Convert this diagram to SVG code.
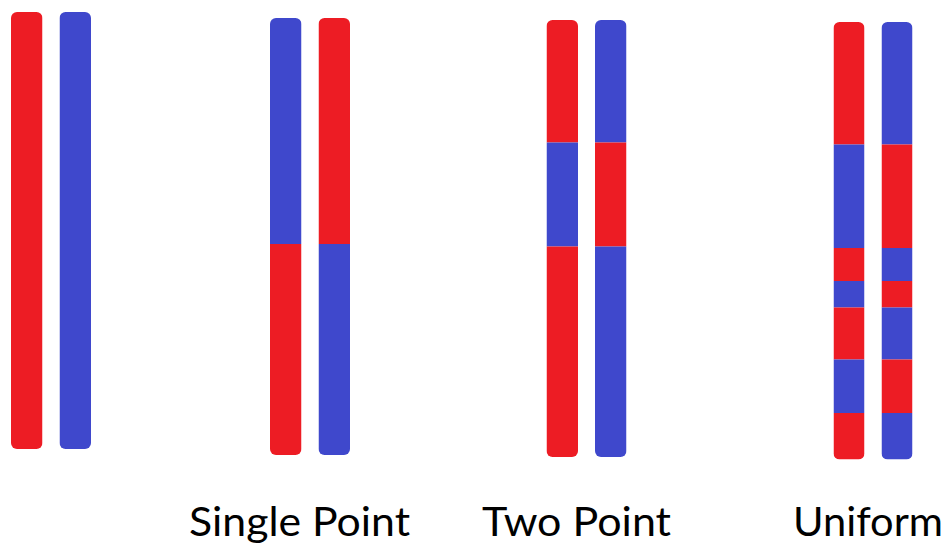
<svg xmlns="http://www.w3.org/2000/svg" width="947" height="545" viewBox="0 0 947 545">
  <style>
    .r { fill: #ED1C24; }
    .b { fill: #3F48CC; }
    .lbl { font-family: Lato, "Open Sans", sans-serif; font-size: 40px; fill: #000; }
  </style>
  <defs>
    <!-- rounded outline of each chromosome bar -->
    <clipPath id="c1a"><rect x="11" y="12" width="31.5" height="437" rx="6"/></clipPath>
    <clipPath id="c1b"><rect x="59.5" y="12" width="31.5" height="437" rx="6"/></clipPath>
    <clipPath id="c2a"><rect x="270" y="18" width="31.5" height="437" rx="6"/></clipPath>
    <clipPath id="c2b"><rect x="318.5" y="18" width="31.5" height="437" rx="6"/></clipPath>
    <clipPath id="c3a"><rect x="546.5" y="20" width="31.5" height="437" rx="6"/></clipPath>
    <clipPath id="c3b"><rect x="595" y="20" width="31.5" height="437" rx="6"/></clipPath>
    <clipPath id="c4a"><rect x="833.5" y="22" width="31" height="437.5" rx="6"/></clipPath>
    <clipPath id="c4b"><rect x="881.5" y="22" width="31" height="437.5" rx="6"/></clipPath>
  </defs>

  <!-- parents -->
  <g id="parents">
    <g id="parent-a" clip-path="url(#c1a)"><rect class="r" x="11" y="12" width="31.5" height="437"/></g>
    <g id="parent-b" clip-path="url(#c1b)"><rect class="b" x="59.5" y="12" width="31.5" height="437"/></g>
  </g>

  <!-- single point crossover -->
  <g id="single-point">
    <g id="sp-a" clip-path="url(#c2a)">
      <rect class="b" x="270" y="18" width="31.5" height="226"/>
      <rect class="r" x="270" y="244" width="31.5" height="211"/>
    </g>
    <g id="sp-b" clip-path="url(#c2b)">
      <rect class="r" x="318.5" y="18" width="31.5" height="226"/>
      <rect class="b" x="318.5" y="244" width="31.5" height="211"/>
    </g>
  </g>

  <!-- two point crossover -->
  <g id="two-point">
    <g id="tp-a" clip-path="url(#c3a)">
      <rect class="r" x="546.5" y="20" width="31.5" height="122.5"/>
      <rect class="b" x="546.5" y="142.5" width="31.5" height="104"/>
      <rect class="r" x="546.5" y="246.5" width="31.5" height="210.5"/>
    </g>
    <g id="tp-b" clip-path="url(#c3b)">
      <rect class="b" x="595" y="20" width="31.5" height="122.5"/>
      <rect class="r" x="595" y="142.5" width="31.5" height="104"/>
      <rect class="b" x="595" y="246.5" width="31.5" height="210.5"/>
    </g>
  </g>

  <!-- uniform crossover -->
  <g id="uniform">
    <g id="un-a" clip-path="url(#c4a)">
      <rect class="r" x="833.5" y="22" width="31" height="122.5"/>
      <rect class="b" x="833.5" y="144.5" width="31" height="103.5"/>
      <rect class="r" x="833.5" y="248" width="31" height="33"/>
      <rect class="b" x="833.5" y="281" width="31" height="26.5"/>
      <rect class="r" x="833.5" y="307.5" width="31" height="52"/>
      <rect class="b" x="833.5" y="359.5" width="31" height="53.5"/>
      <rect class="r" x="833.5" y="413" width="31" height="46.5"/>
    </g>
    <g id="un-b" clip-path="url(#c4b)">
      <rect class="b" x="881.5" y="22" width="31" height="122.5"/>
      <rect class="r" x="881.5" y="144.5" width="31" height="103.5"/>
      <rect class="b" x="881.5" y="248" width="31" height="33"/>
      <rect class="r" x="881.5" y="281" width="31" height="26.5"/>
      <rect class="b" x="881.5" y="307.5" width="31" height="52"/>
      <rect class="r" x="881.5" y="359.5" width="31" height="53.5"/>
      <rect class="b" x="881.5" y="413" width="31" height="46.5"/>
    </g>
  </g>

  <!-- labels -->
  <g id="labels">
    <text class="lbl" x="189" y="536" textLength="221" lengthAdjust="spacingAndGlyphs">Single Point</text>
    <text class="lbl" x="482" y="536" textLength="189" lengthAdjust="spacingAndGlyphs">Two Point</text>
    <text class="lbl" x="793" y="536" textLength="150" lengthAdjust="spacingAndGlyphs">Uniform</text>
  </g>
</svg>
